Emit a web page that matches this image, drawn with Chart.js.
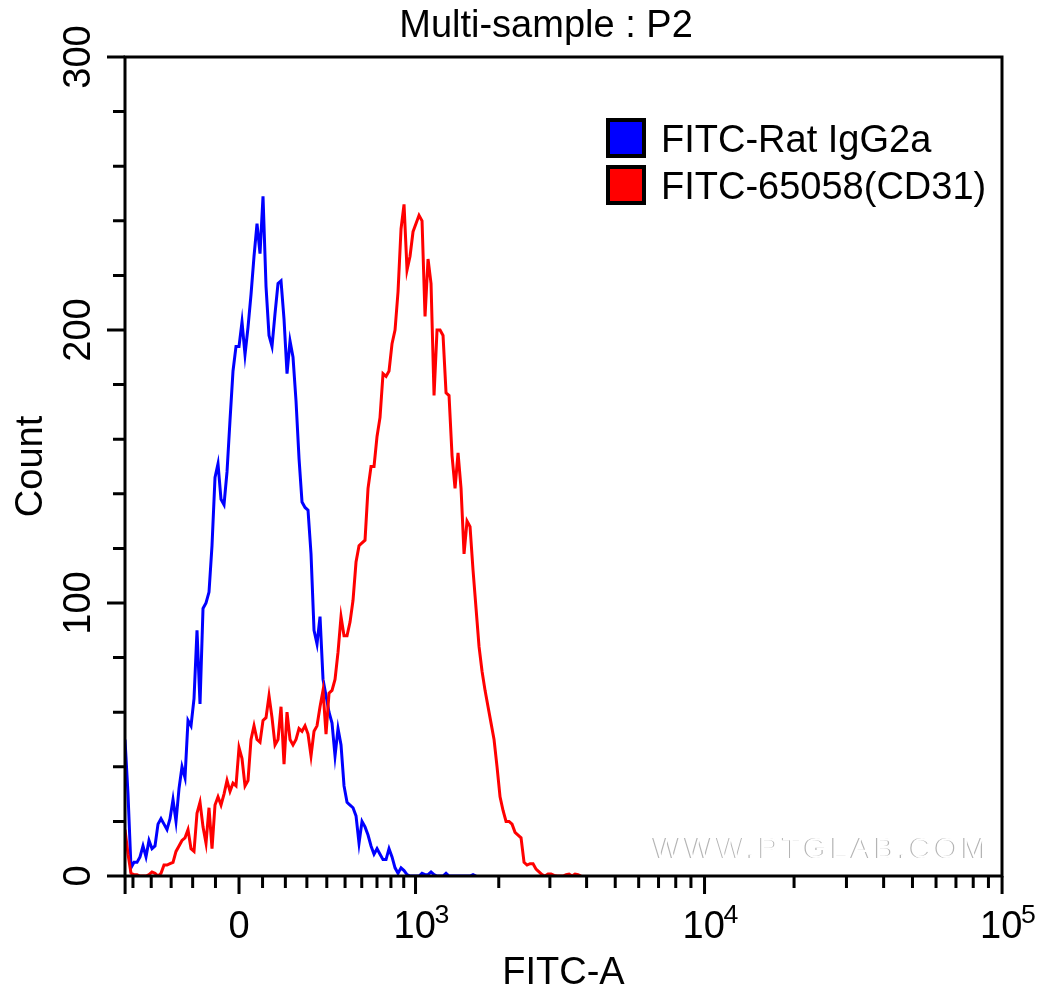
<!DOCTYPE html>
<html>
<head>
<meta charset="utf-8">
<title>Multi-sample : P2</title>
<script src="https://cdn.jsdelivr.net/npm/chart.js@4/dist/chart.umd.min.js"></script>
<style>
  html, body { margin: 0; background: #fff; }
  canvas { display: block; }
</style>
</head>
<body>
<canvas id="histogram" width="1050" height="993"></canvas>
<script>
// Histogram counts per display bin
const blueCounts = [
    50, 30, 3, 5, 5, 7, 11, 7, 13, 10, 11, 19, 21, 19, 17, 21, 28, 20, 32, 40,
    36, 57, 55, 65, 90, 63, 98, 100, 104, 121, 146, 151, 138, 136, 148, 167, 185, 194, 194, 203,
    191, 201, 213, 227, 239, 228, 249, 216, 198, 194, 206, 217, 218, 204, 184, 196, 190, 174, 153, 137,
    135, 134, 118, 90, 85, 95, 72, 66, 60, 56, 44, 54, 48, 33, 27, 26, 25, 22, 12, 20,
    18, 15, 11, 8, 10, 8, 6, 6, 10, 7, 3, 1, 3, 2, 0.5, 0, 0, 0, 0, 1,
    0.5, 0.5, 1.5, 0.5, 0, 0, 0, 1, 0, 0, 0, 0, 0, 0, 0, 0, 0.5, 0
];
const redCounts = [
    17, 8, 1, 0.5, 0.5, 0, 0, 0, 0.5, 1.5, 1, 0, 1, 4, 4, 4.5, 5, 9, 11, 13,
    14, 17, 10, 9, 23, 27, 18, 12, 25, 10, 26, 29, 26, 30, 35, 31, 34, 33, 47, 43,
    33, 35, 50, 55, 50, 49, 57, 58, 66, 58, 48, 50, 62, 41, 60, 50, 48, 50, 54, 53,
    55, 52, 44, 53, 55, 62, 68, 52, 67, 68, 72, 82, 95, 88, 88, 93, 101, 115, 121, 122,
    123, 142, 150, 150, 161, 168, 184, 183, 185, 195, 200, 214, 237, 246, 222, 227, 236, 239, 242, 240,
    205, 226, 217, 176, 200, 200, 198, 177, 176, 154, 142, 155, 142, 118, 130, 128, 112, 98, 84, 75,
    68, 62, 56, 50, 40, 29, 24, 20, 20, 19, 16, 15, 14, 5, 4, 4.5, 4.5, 2.5, 1.5, 0.5,
    0, 0.7, 0.7, 0.2, 0, 0, 0, 0.5, 0.7, 0, 0.7, 0.5, 0
];
const seriesNames = ['FITC-Rat IgG2a', 'FITC-65058(CD31)'];
const seriesColors = ['#0000ff', '#ff0000'];

const yMajorTicks = [0, 100, 200, 300];
const yMinorTicks = [20, 40, 60, 80, 120, 140, 160, 180, 220, 240, 260, 280];

// FITC-A intensities, the axis is biexponential so they go through fitcToBin
const xMajorTicks = [-546, 0, 1000, 10000, 100000];
const xMinorTicks = [
    -500, -400, -300, -200, -100, 100, 200, 300, 400, 500, 600, 700, 800, 900,
    2000, 3000, 4000, 5000, 6000, 7000, 8000, 9000,
    20000, 30000, 40000, 50000, 60000, 70000, 80000, 90000
];
const xLabels = [
    { value: 0, base: '0', power: '' },
    { value: 1000, base: '10', power: '3' },
    { value: 10000, base: '10', power: '4' },
    { value: 100000, base: '10', power: '5' }
];

const FONT = '"Liberation Sans", Arial, sans-serif';
const binCount = 292.3;

function fitcToBin(v) {
    return 38 + 43.08 * Math.asinh(v / 546);
}

function toPoints(counts) {
    return counts.map((y, i) => ({ x: i, y: y }));
}

// Frame, tick marks, x labels, legend, title and watermark
const decorations = {
    id: 'decorations',
    beforeDatasetsDraw(chart) {
        const ctx = chart.ctx;
        ctx.save();
        ctx.font = '30px ' + FONT;
        ctx.letterSpacing = '3.5px';
        ctx.textAlign = 'left';
        ctx.textBaseline = 'alphabetic';
        ctx.fillStyle = '#b4b4b4';
        ctx.fillText('WWW.PTGLAB.COM', 652, 858);
        ctx.fillStyle = '#ffffff';
        ctx.fillText('WWW.PTGLAB.COM', 653.2, 858);
        ctx.restore();
    },
    afterDatasetsDraw(chart) {
        const ctx = chart.ctx;
        const area = chart.chartArea;
        const xScale = chart.scales.x;
        const yScale = chart.scales.y;
        ctx.save();
        ctx.strokeStyle = '#000';
        ctx.fillStyle = '#000';
        ctx.lineWidth = 3;
        ctx.strokeRect(area.left, area.top, area.right - area.left, area.bottom - area.top);

        ctx.beginPath();
        const xTick = (v, len) => {
            const px = xScale.getPixelForValue(fitcToBin(v));
            ctx.moveTo(px, area.bottom);
            ctx.lineTo(px, area.bottom + len);
        };
        const yTick = (v, len) => {
            const py = yScale.getPixelForValue(v);
            ctx.moveTo(area.left, py);
            ctx.lineTo(area.left - len, py);
        };
        xMajorTicks.forEach(v => xTick(v, 18));
        xMinorTicks.forEach(v => xTick(v, 12));
        yMajorTicks.forEach(v => yTick(v, 18));
        yMinorTicks.forEach(v => yTick(v, 12));
        ctx.stroke();

        // x labels with raised powers
        ctx.textBaseline = 'alphabetic';
        xLabels.forEach(item => {
            const px = xScale.getPixelForValue(fitcToBin(item.value));
            ctx.font = '38px ' + FONT;
            if (!item.power) {
                ctx.textAlign = 'center';
                ctx.fillText(item.base, px, 938);
                return;
            }
            ctx.textAlign = 'left';
            ctx.fillText(item.base, px - 22, 938);
            ctx.font = '26.67px ' + FONT;
            ctx.fillText(item.power, px + 19, 923);
        });

        // title is a little off centre in the reference
        ctx.font = '38px ' + FONT;
        ctx.textAlign = 'center';
        ctx.fillText('Multi-sample : P2', 546, 37);

        // legend
        ctx.textAlign = 'left';
        seriesNames.forEach((name, i) => {
            const top = 118 + i * 47;
            ctx.fillStyle = seriesColors[i];
            ctx.fillRect(606, top, 40, 40);
            ctx.strokeStyle = '#000';
            ctx.lineWidth = 4;
            ctx.strokeRect(608, top + 2, 36, 36);
            ctx.fillStyle = '#000';
            ctx.fillText(name, 661, top + 34);
        });
        ctx.restore();
    }
};

new Chart(document.getElementById('histogram'), {
    type: 'line',
    data: {
        datasets: [
            {
                label: seriesNames[0],
                data: toPoints(blueCounts),
                borderColor: seriesColors[0],
                borderWidth: 3,
                pointRadius: 0,
                tension: 0,
                order: 2
            },
            {
                label: seriesNames[1],
                data: toPoints(redCounts),
                borderColor: seriesColors[1],
                borderWidth: 3,
                pointRadius: 0,
                tension: 0,
                order: 1
            }
        ]
    },
    plugins: [decorations],
    options: {
        responsive: false,
        animation: false,
        devicePixelRatio: 1,
        layout: { padding: { top: 57, right: 48 } },
        plugins: {
            legend: { display: false },
            title: { display: false },
            tooltip: { enabled: false }
        },
        scales: {
            x: {
                type: 'linear',
                min: 0,
                max: binCount,
                grid: { display: false },
                border: { display: false },
                ticks: { display: false },
                title: {
                    display: true,
                    text: 'FITC-A',
                    color: '#000',
                    font: { family: FONT, size: 38, lineHeight: 1.02 },
                    padding: { top: 0, bottom: 0 }
                },
                afterFit(scale) { scale.height = 117; }
            },
            y: {
                min: 0,
                max: 300,
                grid: { display: false },
                border: { display: false },
                afterBuildTicks(scale) {
                    scale.ticks = yMajorTicks.map(v => ({ value: v }));
                },
                ticks: {
                    autoSkip: false,
                    minRotation: 90,
                    maxRotation: 90,
                    crossAlign: 'center',
                    padding: 6,
                    color: '#000',
                    font: { family: FONT, size: 38 }
                },
                title: {
                    display: true,
                    text: 'Count',
                    color: '#000',
                    font: { family: FONT, size: 38 },
                    padding: { top: 9, bottom: 0 }
                },
                afterFit(scale) { scale.width = 125; }
            }
        }
    }
});
</script>
</body>
</html>
